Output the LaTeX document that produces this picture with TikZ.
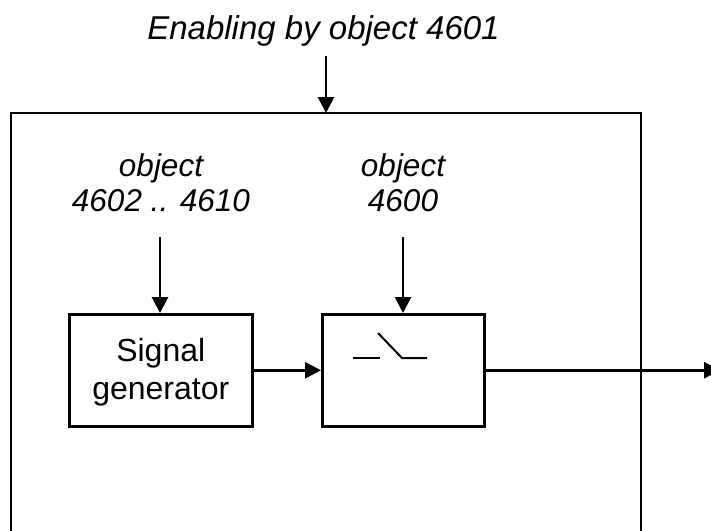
\documentclass[tikz,border=0pt]{standalone}
\usepackage{fontspec}
\setmainfont{Liberation Sans}
\usetikzlibrary{arrows.meta}
\tikzset{
 blockbox/.style={draw=black,line width=2.5pt,inner sep=0pt,anchor=north west,align=center},
 conn/.style={draw=black,line width=2.8pt,-{Triangle[length=16pt,width=16pt]}},
 lab/.style={font=\fontsize{31.5pt}{35pt}\selectfont\itshape,align=center,inner sep=0pt},
 top/.style={font=\fontsize{33pt}{36pt}\selectfont\itshape,align=center,inner sep=0pt},
 plain/.style={font=\fontsize{32pt}{38pt}\selectfont,align=center,inner sep=0pt},
}
\begin{document}
\begin{tikzpicture}[x=1pt,y=-1pt]
\useasboundingbox (0,0) rectangle (711,530);
\clip (0,0) rectangle (711,530);
\fill[white] (0,0) rectangle (711,530);
\draw[line width=2.5pt] (11,535) |- (641,113) -- (641,535);
\coordinate (outer) at (326,113);
\node[top] (enable) at (323.5,31) {Enabling by object 4601};
\coordinate (e1) at (326,56);
\draw[conn] (e1) -- (outer);
\node[lab] (o1) at (161,183) {object\\4602 .. 4610};
\node[lab] (o2) at (403,183) {object\\4600};
\node[blockbox,minimum width=183pt,minimum height=112pt] (sg) at (68,313) {};
\node[plain] (sgt) at ([yshift=-2pt]sg.center) {Signal\\generator};
\node[blockbox,minimum width=162pt,minimum height=112pt] (sw) at (321,313) {};
\coordinate (t1) at (160,237);
\coordinate (t2) at (403,237);
\draw[conn] (t1) -- (sg.north -| t1);
\draw[conn] (t2) -- (sw.north -| t2);
\draw[conn] (sg.east) -- (sw.west);
\coordinate (out) at (720,369);
\draw[conn] (sw.east) -- (sw.east -| out);
\draw[line width=2pt] (353,358) -- (380,358);
\draw[line width=2pt] (378,333) -- (402,358) -- (427,358);
\end{tikzpicture}
\end{document}
